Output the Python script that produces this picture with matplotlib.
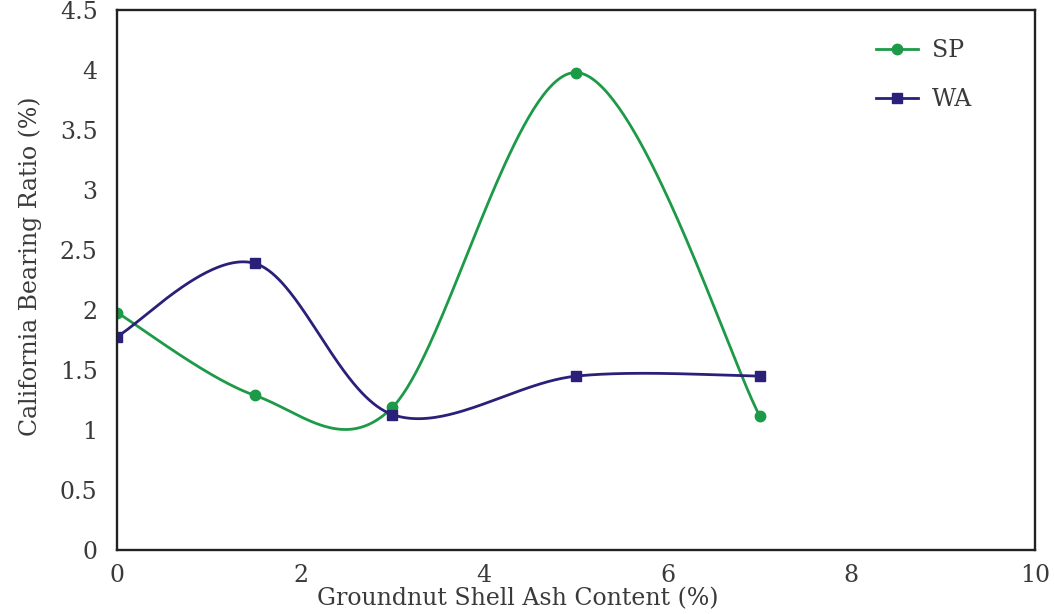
import numpy as np
import matplotlib.pyplot as plt

plt.rcParams['font.family'] = ['DejaVu Serif']

# Groundnut shell ash content (%)
gsa = [0, 1.5, 3, 5, 7]
# California bearing ratio (%)
sp_cbr = [1.98, 1.29, 1.19, 3.98, 1.12]
wa_cbr = [1.78, 2.39, 1.13, 1.45, 1.45]

series_names = ["SP", "WA"]
GREEN = "#1d9a48"
NAVY = "#2a2079"
TEXT = "#3a3a3a"


def smooth_line(P, n=80):
    # spreadsheet style smoothed line (bezier pieces), worked out in pixel space
    out = [P[0]]
    k = len(P)
    for i in range(k - 1):
        p0 = P[i - 1] if i > 0 else P[i]
        p1, p2 = P[i], P[i + 1]
        p3 = P[i + 2] if i + 2 < k else P[i + 1]
        d12 = np.hypot(*(p2 - p1))
        d02 = np.hypot(*(p2 - p0))
        d13 = np.hypot(*(p3 - p1))
        f0 = 1 / 6 if d02 / 6 < d12 / 2 else d12 / d02 / 2
        f1 = 1 / 6 if d13 / 6 < d12 / 2 else d12 / d13 / 2
        c1 = p1 + f0 * (p2 - p0)
        c2 = p2 - f1 * (p3 - p1)
        t = np.linspace(0, 1, n)[1:, None]
        out.extend((1 - t) ** 3 * p1 + 3 * (1 - t) ** 2 * t * c1 + 3 * (1 - t) * t ** 2 * c2 + t ** 3 * p2)
    return np.array(out)


fig = plt.figure(figsize=(10.54, 6.14), dpi=100)
ax = fig.add_axes([0.111, 0.104, 0.871, 0.8795])
ax.set_xlim(0, 10)
ax.set_ylim(0, 4.5)

inv = ax.transData.inverted()
for ys, col, mk, ms, lab in [(sp_cbr, GREEN, "o", 7.5, series_names[0]),
                             (wa_cbr, NAVY, "s", 7, series_names[1])]:
    pix = ax.transData.transform(np.column_stack([gsa, ys]))
    curve = inv.transform(smooth_line(pix))
    ax.plot(curve[:, 0], curve[:, 1], color=col, lw=2)
    ax.plot(gsa, ys, ls="none", marker=mk, ms=ms, color=col)
    ax.plot([], [], color=col, lw=2, marker=mk, ms=ms, label=lab)

ax.set_xticks([0, 2, 4, 6, 8, 10])
ax.set_yticks([0, 0.5, 1, 1.5, 2, 2.5, 3, 3.5, 4, 4.5])
ax.set_yticklabels(["0", "0.5", "1", "1.5", "2", "2.5", "3", "3.5", "4", "4.5"])
ax.tick_params(length=0, labelsize=17, colors=TEXT)
ax.tick_params(axis="y", pad=14)
ax.tick_params(axis="x", pad=10)
for s in ax.spines.values():
    s.set_linewidth(1.7)
    s.set_color("#222222")

ax.set_xlabel("Groundnut Shell Ash Content (%)", fontsize=17, color=TEXT)
ax.xaxis.set_label_coords(0.437, -0.068)
ax.set_ylabel("California Bearing Ratio (%)", fontsize=17, color=TEXT)
ax.yaxis.set_label_coords(-0.082, 0.526)

ax.legend(loc="upper right", bbox_to_anchor=(0.955, 0.985), frameon=False, fontsize=17,
          handlelength=1.8, handletextpad=0.6, labelspacing=1.1, labelcolor=TEXT)

fig.savefig("out.png", dpi=100)
